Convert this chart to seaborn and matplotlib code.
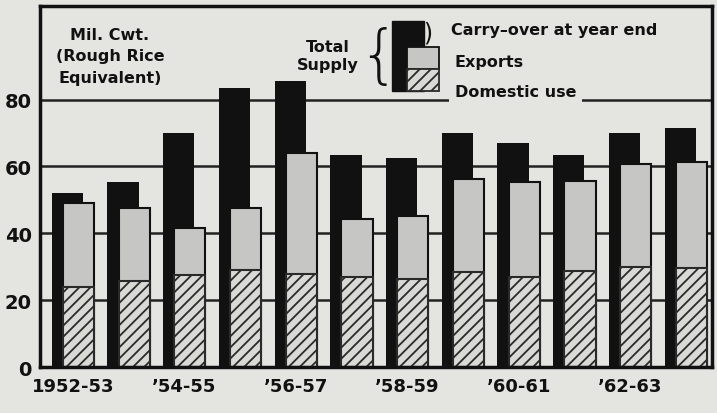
#!/usr/bin/env python3
import numpy as np
import pandas as pd
import matplotlib.pyplot as plt
import seaborn as sns
from matplotlib.patches import Rectangle

# rice supply and distribution, million cwt (rough rice equivalent)
years = ['1952-53', '1953-54', '1954-55', '1955-56', '1956-57', '1957-58',
         '1958-59', '1959-60', '1960-61', '1961-62', '1962-63', '1963-64']
tick_labels = ['1952-53', '\u201954-55', '\u201956-57', '\u201958-59', '\u201960-61', '\u201962-63']
total_supply = [52, 55.5, 70, 83.5, 85.5, 63.5, 62.5, 70, 67, 63.5, 70, 71.5]
domestic_use = [23.9, 25.6, 27.5, 29, 27.7, 26.8, 26.2, 28.3, 26.9, 28.6, 29.8, 29.5]
exports = [25.3, 21.9, 14.0, 18.6, 36.3, 17.5, 19.0, 28.1, 28.6, 27.2, 31.0, 31.9]

df = pd.DataFrame({'year': years, 'total': total_supply,
                   'domestic': domestic_use, 'exports': exports})
df['pos'] = np.arange(len(df))
df['used'] = df['domestic'] + df['exports']

paper = '#e4e4e1'
ink = '#111111'

sns.set_theme(style='white')
plt.rcParams['font.family'] = ['DejaVu Sans']
plt.rcParams['font.weight'] = 'bold'
plt.rcParams['hatch.linewidth'] = 1.3

fig = plt.figure(figsize=(7.17, 4.14), dpi=100, facecolor=paper)
ax = fig.add_axes([0.0558, 0.111, 0.9372, 0.872], facecolor=paper)

# black bars = total supply (carry-over shows above the front bar)
sns.barplot(x=df['pos'] - 0.1, y=df['total'], native_scale=True, width=0.56,
            color=ink, saturation=1, errorbar=None, linewidth=0, zorder=2, ax=ax)
# front bar: exports stacked on domestic use
sns.barplot(x=df['pos'] + 0.1, y=df['used'], native_scale=True, width=0.56,
            color='#c6c6c4', saturation=1, errorbar=None, edgecolor=ink,
            linewidth=1.5, zorder=3, ax=ax)
sns.barplot(x=df['pos'] + 0.1, y=df['domestic'], native_scale=True, width=0.56,
            color='#d9d9d6', saturation=1, errorbar=None, edgecolor='#2a2a2a',
            linewidth=1.5, hatch='///', zorder=4, ax=ax)

ax.set_xlim(-0.59, 11.47)
ax.set_ylim(0, 108)
ax.set_xlabel('')
ax.set_ylabel('')

for yv in [20, 40, 60, 80]:
    ax.axhline(yv, color='#222222', lw=1.8, zorder=1)

ax.set_yticks([0, 20, 40, 60, 80])
ax.set_yticklabels(['0', '20', '40', '60', '80'], fontsize=14, fontweight='bold')
ax.set_yticks([10, 30, 50, 70], minor=True)
ax.tick_params(axis='y', which='major', length=0, pad=6, colors=ink)
ax.tick_params(axis='y', which='minor', direction='in', length=6, width=2, color=ink)
ax.set_xticks(df['pos'][::2])
ax.set_xticklabels(tick_labels, fontsize=13, fontweight='bold')
ax.tick_params(axis='x', direction='out', length=4, width=1.5, pad=3, colors=ink)
ax.tick_params(axis='x', which='minor', length=0)

for side in ['left', 'right', 'top', 'bottom']:
    ax.spines[side].set_visible(True)
    ax.spines[side].set_color(ink)
    ax.spines[side].set_linewidth(2.5)
    ax.spines[side].set_zorder(6)

# unit label
ax.text(0.104, 0.862, 'Mil. Cwt.\n(Rough Rice\nEquivalent)', transform=ax.transAxes,
        ha='center', va='center', multialignment='center', fontsize=11.5,
        fontweight='bold', linespacing=1.55, color=ink, zorder=7)

# hand-made legend
tr = ax.transAxes
ax.add_patch(Rectangle((0.524, 0.765), 0.048, 0.193, transform=tr, facecolor=ink,
                       edgecolor=ink, lw=1, zorder=7))
ax.add_patch(Rectangle((0.546, 0.825), 0.048, 0.061, transform=tr, facecolor='#c6c6c4',
                       edgecolor=ink, lw=1.3, zorder=8))
ax.add_patch(Rectangle((0.546, 0.765), 0.048, 0.060, transform=tr, facecolor='#d9d9d6',
                       edgecolor='#2a2a2a', lw=1.3, hatch='///', zorder=8))
ax.text(0.474, 0.862, 'Total\nSupply', transform=tr, ha='right', va='center',
        multialignment='center', fontsize=11.5, fontweight='bold', linespacing=1.25,
        color=ink, zorder=7)
ax.text(0.504, 0.858, '{', transform=tr, ha='center', va='center', fontsize=46,
        fontweight='light', color=ink, zorder=7)
ax.text(0.577, 0.926, ')', transform=tr, ha='center', va='center', fontsize=17,
        fontweight='normal', color=ink, zorder=7)
ax.text(0.611, 0.935, 'Carry\u2013over at year end', transform=tr, ha='left', va='center',
        fontsize=11.5, fontweight='bold', color=ink, zorder=7)
ax.text(0.617, 0.845, 'Exports', transform=tr, ha='left', va='center',
        fontsize=11.5, fontweight='bold', color=ink, zorder=7)
ax.text(0.617, 0.762, 'Domestic use', transform=tr, ha='left', va='center',
        fontsize=11.5, fontweight='bold', color=ink, zorder=7,
        bbox=dict(facecolor=paper, edgecolor='none', pad=4))

plt.savefig('out.png', dpi=100, facecolor=paper)
